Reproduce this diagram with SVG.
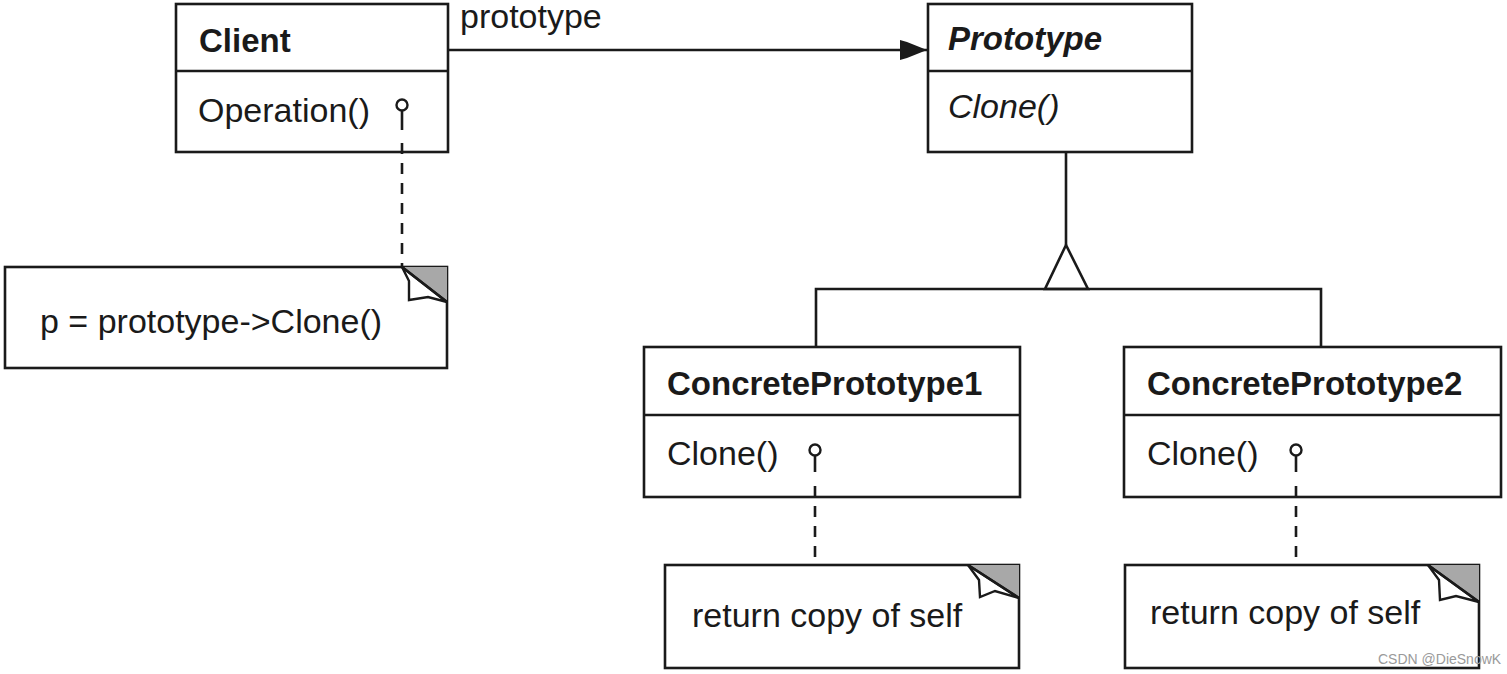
<svg xmlns="http://www.w3.org/2000/svg" width="1507" height="674" viewBox="0 0 1507 674">
<style>
.box{fill:#fff;stroke:#1a1a1a;stroke-width:2.6}
.div{stroke:#1a1a1a;stroke-width:2.6}
.ln{stroke:#1a1a1a;stroke-width:2.6;fill:none}
.dash{stroke:#1a1a1a;stroke-width:2.6;fill:none;stroke-dasharray:11 9}
.t{font-family:"Liberation Sans",Arial,sans-serif;font-size:34px;fill:#1a1a1a}
.b{font-weight:bold;font-size:33px}
.i{font-style:italic}
.fold{fill:#a8a8a8;stroke:none}
.foldw{fill:#fff;stroke:#1a1a1a;stroke-width:2.4}
.pin{fill:#fff;stroke:#1a1a1a;stroke-width:2.4}
</style>
<defs>
<marker id="arr" markerWidth="30" markerHeight="24" refX="28" refY="12" orient="auto" markerUnits="userSpaceOnUse">
<path d="M1,2 L8,4 L28,12 L8,20 L1,22 Z" fill="#1a1a1a"/>
</marker>
</defs>
<rect width="1507" height="674" fill="#fff"/>

<g id="client">
<rect class="box" x="176" y="4" width="272" height="148"/>
<line class="div" x1="176" y1="71" x2="448" y2="71"/>
<text class="t b" x="199" y="52">Client</text>
<text class="t" x="198" y="122">Operation()</text>
</g>

<g id="prototype">
<rect class="box" x="928" y="4" width="264" height="148"/>
<line class="div" x1="928" y1="71" x2="1192" y2="71"/>
<text class="t b i" x="948" y="50">Prototype</text>
<text class="t i" x="948" y="118">Clone()</text>
</g>

<g id="concrete1">
<rect class="box" x="644" y="347" width="376" height="150"/>
<line class="div" x1="644" y1="415" x2="1020" y2="415"/>
<text class="t b" x="667" y="395">ConcretePrototype1</text>
<text class="t" x="667" y="465">Clone()</text>
</g>

<g id="concrete2">
<rect class="box" x="1124" y="347" width="377" height="150"/>
<line class="div" x1="1124" y1="415" x2="1501" y2="415"/>
<text class="t b" x="1147" y="395">ConcretePrototype2</text>
<text class="t" x="1147" y="465">Clone()</text>
</g>

<g id="note-client">
<rect class="box" x="5" y="267" width="442" height="101"/>
<polygon class="fold" points="402,267 447,267 447,302"/>
<polygon class="foldw" points="402,267 409,281 409,300 428,297 447,302"/>
<line class="ln" x1="402" y1="267" x2="447" y2="302"/>
<text class="t" x="40" y="333">p = prototype-&gt;Clone()</text>
</g>

<g id="note-cp1">
<rect class="box" x="665" y="565" width="354" height="103"/>
<polygon class="fold" points="968,565 1019,565 1019,598"/>
<polygon class="foldw" points="968,565 979,580 980,597 995,591 1019,598"/>
<line class="ln" x1="968" y1="565" x2="1019" y2="598"/>
<text class="t" x="692" y="627">return copy of self</text>
</g>

<g id="note-cp2">
<rect class="box" x="1125" y="565" width="354" height="103"/>
<polygon class="fold" points="1428,565 1479,565 1479,602"/>
<polygon class="foldw" points="1428,565 1439,580 1440,600 1456,596 1479,602"/>
<line class="ln" x1="1428" y1="565" x2="1479" y2="602"/>
<text class="t" x="1150" y="624">return copy of self</text>
</g>

<g id="connectors">
<line class="ln" x1="448" y1="50" x2="927" y2="50" marker-end="url(#arr)"/>
<line class="ln" x1="1066" y1="152" x2="1066" y2="245"/>
<polygon points="1066,245 1045,289 1088,289" fill="#fff" stroke="#1a1a1a" stroke-width="2.6"/>
<polyline class="ln" points="816,347 816,289 1321,289 1321,347"/>
<line class="ln" x1="402" y1="111" x2="402" y2="130"/>
<line class="dash" x1="402" y1="143" x2="402" y2="267"/>
<circle class="pin" cx="402" cy="105" r="5.5"/>
<line class="ln" x1="815" y1="456" x2="815" y2="472"/>
<line class="dash" x1="815" y1="486" x2="815" y2="565"/>
<circle class="pin" cx="815" cy="450" r="5.5"/>
<line class="ln" x1="1296" y1="456" x2="1296" y2="472"/>
<line class="dash" x1="1296" y1="486" x2="1296" y2="565"/>
<circle class="pin" cx="1296" cy="450" r="5.5"/>
</g>

<text class="t" x="460" y="28">prototype</text>
<text x="1378" y="664" font-family="'Liberation Sans',Arial,sans-serif" font-size="14" fill="#9a9a9a">CSDN @DieSnowK</text>
</svg>
